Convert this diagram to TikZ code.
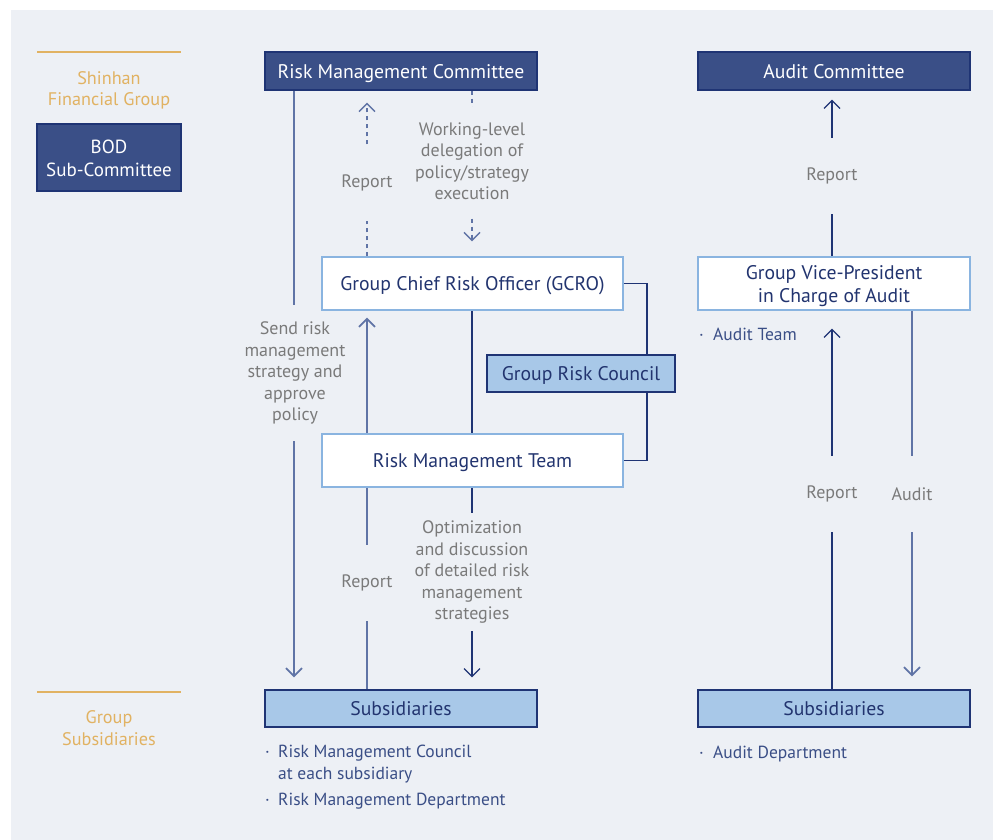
\documentclass[tikz,border=0pt]{standalone}
\usepackage{fontspec}
\setmainfont{PT Sans}
\usetikzlibrary{arrows.meta}

\definecolor{pagebg}{HTML}{EDF0F5}
\definecolor{navyfill}{HTML}{3A4F87}
\definecolor{navyline}{HTML}{1F3474}
\definecolor{navytext}{HTML}{22346F}
\definecolor{skyfill}{HTML}{A8C8E8}
\definecolor{skyline}{HTML}{8AB4E0}
\definecolor{slate}{HTML}{6074A6}
\definecolor{gold}{HTML}{E1B262}
\definecolor{labelgray}{HTML}{7A7A7A}
\definecolor{itemtext}{HTML}{3A4E86}

\pgfdeclarelayer{links}
\pgfdeclarelayer{breaks}
\pgfsetlayers{links,breaks,main}

\tikzset{
  boxfont/.style={font=\fontsize{19.7}{23}\selectfont},
  boxbase/.style={boxfont, line width=1.3pt, inner sep=0pt, align=center, text depth=0pt},
  darkbox/.style={boxbase, draw=navyline, fill=navyfill, text=white},
  whitebox/.style={boxbase, draw=skyline, fill=white, text=navytext},
  skybox/.style={boxbase, draw=navyline, fill=skyfill, text=navytext},
  flowlabel/.style={font=\fontsize{18}{21.5}\selectfont, text=labelgray, fill=pagebg,
    inner xsep=2pt, inner ysep=0pt, align=center},
  itemlist/.style={font=\fontsize{17.5}{22}\selectfont, text=itemtext, align=left,
    inner sep=0pt, anchor=base west},
  grouptext/.style={font=\fontsize{18.2}{21.5}\selectfont, text=gold, align=center},
  tip/.style={-{Straight Barb[length=8pt,width=16pt]}},
  solidnavy/.style={draw=navyline, line width=1.2pt},
  solidslate/.style={draw=slate, line width=1.8pt},
  dashslate/.style={draw=slate, line width=1.4pt, dash pattern=on 4pt off 4pt},
}

\begin{document}
\begin{tikzpicture}[x=1pt, y=-1pt]
  % canvas
  \useasboundingbox (0,0) rectangle (993,840);
  \begin{pgfonlayer}{links}
    \fill[pagebg] (11,10) rectangle (993,840);
  \end{pgfonlayer}

  % level legend
  \draw[gold, line width=1.3pt] (37,52) -- (181,52);
  \node[grouptext] (lvlgroup) at (109,90.5) {Shinhan\\Financial Group};
  \node[darkbox, font=\fontsize{19}{23}\selectfont, minimum width=144pt, minimum height=67pt]
    (bod) at (109,157.5) {\rule{0pt}{15pt}BOD\\Sub-Committee};
  \draw[gold, line width=1.3pt] (37,692) -- (181,692);
  \node[grouptext] (lvlsub) at (109,728) {Group\\Subsidiaries};

  % x positions of the vertical connectors
  \coordinate (xA) at (294,0);
  \coordinate (xB) at (367,0);
  \coordinate (xC) at (472,0);
  \coordinate (xD) at (647,0);
  \coordinate (xE) at (832,0);
  \coordinate (xF) at (912,0);

  % boxes
  \node[darkbox, minimum width=272pt, minimum height=38pt] (rmc) at (401,71)
    {Risk Management Committee};
  \node[darkbox, minimum width=272pt, minimum height=38pt] (ac) at (834,71)
    {Audit Committee};
  \node[whitebox, minimum width=301pt, minimum height=53pt] (gcro) at (472.5,283.5)
    {Group Chief Risk Officer (GCRO)};
  \node[whitebox, minimum width=301pt, minimum height=53pt] (rmt) at (472.5,460.5)
    {Risk Management Team};
  \node[skybox, minimum width=188pt, minimum height=37pt] (grc) at (581,373.5)
    {Group Risk Council};
  \node[whitebox, minimum width=272pt, minimum height=53pt] (gvp) at (834,283.5)
    {Group Vice-President\\in Charge of Audit};
  \node[skybox, minimum width=272pt, minimum height=37pt] (sub1) at (401,708.5)
    {Subsidiaries};
  \node[skybox, minimum width=272pt, minimum height=37pt] (sub2) at (834,708.5)
    {Subsidiaries};

  \begin{pgfonlayer}{links}
    % risk management flows
    \draw[solidslate, tip, shorten >=12pt] (rmc.south -| xA) -- (sub1.north -| xA);
    \draw[dashslate, tip, shorten >=12pt] (gcro.north -| xB) -- (rmc.south -| xB);
    \draw[dashslate, tip, shorten >=15pt] (rmc.south -| xC) -- (gcro.north -| xC);
    \draw[solidslate] (sub1.north -| xB) -- (rmt.south -| xB);
    \draw[solidslate, tip, shorten >=7pt] (rmt.north -| xB) -- (gcro.south -| xB);
    \draw[solidnavy] (gcro.south -| xC) -- (rmt.north -| xC);
    \draw[solidnavy, tip, shorten >=12pt] (rmt.south -| xC) -- (sub1.north -| xC);
    \draw[solidnavy] (gcro.east) -| (grc.north -| xD);
    \draw[solidnavy] (grc.south -| xD) |- (rmt.east);

    % audit flows
    \draw[solidnavy, tip, shorten >=9pt] (gvp.north -| xE) -- (ac.south -| xE);
    \draw[solidnavy, tip, shorten >=18pt] (sub2.north -| xE) -- (gvp.south -| xE);
    \draw[solidslate, tip, shorten >=13pt] (gvp.south -| xF) -- (sub2.north -| xF);
  \end{pgfonlayer}

  % connector labels (they break the lines they sit on)
  \begin{pgfonlayer}{breaks}
    \node[flowlabel, minimum height=76pt] (lblrep1) at (367,183) {Report};
    \node[flowlabel, minimum height=107pt] (lbldeleg) at (472,161)
      {Working-level\\delegation of\\policy/strategy\\execution};
    \node[flowlabel, minimum height=136pt] (lblsend) at (295,373)
      {Send risk\\management\\strategy and\\approve\\policy};
    \node[flowlabel, minimum height=76pt] (lblrep2) at (367,583) {Report};
    \node[flowlabel, minimum height=118pt] (lblopt) at (472,572)
      {Optimization\\and discussion\\of detailed risk\\management\\strategies};
    \node[flowlabel, minimum height=76pt] (lblrep3) at (832,176) {Report};
    \node[flowlabel, minimum height=76pt] (lblrep4) at (832,494) {Report};
    \node[flowlabel, minimum height=76pt] (lblaudit) at (912,494) {Audit};
  \end{pgfonlayer}

  % member lists
  \node[itemlist] (listrisk) at (265,805)
    {\makebox[13pt][l]{·}Risk Management Council\\
     \hspace*{13pt}at each subsidiary\\[4pt]
     \makebox[13pt][l]{·}Risk Management Department};
  \node[itemlist] (listteam) at (699,340) {\makebox[14pt][l]{·}Audit Team};
  \node[itemlist] (listdept) at (699,758) {\makebox[14pt][l]{·}Audit Department};
\end{tikzpicture}
\end{document}
